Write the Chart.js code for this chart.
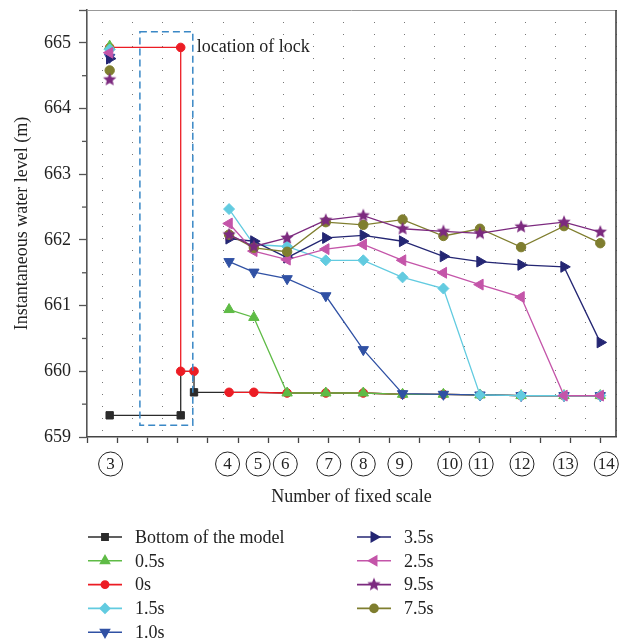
<!DOCTYPE html>
<html lang="en">
<head>
  <meta charset="UTF-8">
  <title>Instantaneous water level</title>
  <script src="https://cdn.jsdelivr.net/npm/chart.js"></script>
  <style>
    body { margin: 0; background: #fff; }
  </style>
</head>
<body>
  <canvas id="levelChart" width="629" height="642"></canvas>
  <script>
    // x position (axis units) of the fixed scales
    const scale3X = 0.75;
    const scaleX = [4.70, 5.52, 6.62, 7.90, 9.14, 10.44, 11.79, 13.00, 14.36, 15.78, 16.98]; // scales 4..14
    // circled labels under the axis
    const scaleNames = ['3', '4', '5', '6', '7', '8', '9', '10', '11', '12', '13', '14'];
    const scaleNameX = [0.78, 4.65, 5.66, 6.56, 8.0, 9.14, 10.35, 12.0, 13.04, 14.39, 15.83, 17.18];

    // around the lock
    const bottomLockX = [0.75, 3.10, 3.10, 3.54, 3.54];
    const bottomLockY = [659.33, 659.33, 660.0, 660.0, 659.68];
    const zeroLockX = [0.75, 3.10, 3.10, 3.54];
    const zeroLockY = [664.93, 664.93, 660.0, 660.0];
    const lockBox = { x1: 1.75, x2: 3.5, y1: 659.18, y2: 665.17 };

    // water level at scales 4..14
    const bottomLevel = [659.68, 659.68, 659.67, 659.67, 659.67, 659.65, 659.65, 659.64, 659.63, 659.63, 659.63];
    const level0s  = [659.68, 659.68, 659.67, 659.67, 659.67, 659.65, 659.65, 659.64, 659.63, 659.63, 659.63];
    const level05s = [660.94, 660.82, 659.67, 659.67, 659.67, 659.65, 659.65, 659.64, 659.63, 659.63, 659.63];
    const level10s = [661.67, 661.51, 661.41, 661.15, 660.33, 659.66, 659.65, 659.64, 659.63, 659.63, 659.63];
    const level15s = [662.47, 661.93, 661.90, 661.69, 661.69, 661.43, 661.26, 659.64, 659.63, 659.63, 659.63];
    const level25s = [662.25, 661.83, 661.70, 661.86, 661.93, 661.69, 661.50, 661.32, 661.13, 659.63, 659.63];
    const level35s = [662.02, 661.98, 661.73, 662.03, 662.07, 661.98, 661.75, 661.67, 661.62, 661.59, 660.44];
    const level75s = [662.08, 661.88, 661.82, 662.27, 662.23, 662.31, 662.06, 662.17, 661.89, 662.21, 661.95];
    const level95s = [662.08, 661.90, 662.03, 662.30, 662.37, 662.17, 662.13, 662.10, 662.20, 662.27, 662.12];
    // level at scale 3
    const first = { s05: 664.95, s0: 664.93, s15: 664.90, s10: 664.78, s35: 664.76, s25: 664.85, s95: 664.44, s75: 664.58 };

    const serif = '"Liberation Serif", "DejaVu Serif", serif';

    function makeStar(color, r) {
      const c = document.createElement('canvas');
      c.width = c.height = 2 * r + 2;
      const g = c.getContext('2d');
      g.fillStyle = color;
      g.beginPath();
      for (let i = 0; i < 10; i++) {
        const a = -Math.PI / 2 + i * Math.PI / 5;
        const rr = i % 2 ? r * 0.45 : r;
        g.lineTo(r + 1 + rr * Math.cos(a), r + 1 + rr * Math.sin(a));
      }
      g.closePath();
      g.fill();
      return c;
    }

    function pts(xs, ys) {
      return xs.map((x, i) => ({ x: x, y: ys[i] }));
    }
    // scale 3 point, a gap, then scales 4..14
    function withGap(y3, values) {
      return [{ x: scale3X, y: y3 }, { x: 2.5, y: null }].concat(pts(scaleX, values));
    }

    function line(label, color, data, style, radius, extra) {
      return Object.assign({
        label: label,
        data: data,
        borderColor: color,
        backgroundColor: color,
        pointBackgroundColor: color,
        pointBorderColor: color,
        borderWidth: 1.3,
        pointStyle: style,
        pointRadius: radius,
        pointBorderWidth: 1,
        tension: 0,
        spanGaps: false
      }, extra || {});
    }

    const datasets = [
      line('Bottom of the model', '#2b2b2b',
        pts(bottomLockX, bottomLockY).concat(pts(scaleX, bottomLevel)), 'rect',
        [5.2, 5.2, 0, 0, 5.2].concat(scaleX.map(() => 0)), { order: 9 }),
      line('0.5s', '#5fbb46', withGap(first.s05, level05s), 'triangle', 6, { order: 5 }),
      line('0s', '#ec1c24',
        pts(zeroLockX, zeroLockY).concat([{ x: 4, y: null }], pts(scaleX, level0s)), 'circle', 4.3, { order: 8 }),
      line('1.5s', '#62cbe0', withGap(first.s15, level15s), 'rectRot', 5.5, { order: 3 }),
      line('1.0s', '#3051a4', withGap(first.s10, level10s), 'triangle', 6, { order: 4, pointRotation: 180 }),
      line('3.5s', '#242673', withGap(first.s35, level35s), 'triangle', 6.3, { order: 2, pointRotation: 90 }),
      line('2.5s', '#c455a9', withGap(first.s25, level25s), 'triangle', 6.3, { order: 1, pointRotation: -90 }),
      line('9.5s', '#7c2a7f', withGap(first.s95, level95s), makeStar('#7c2a7f', 7), 7, { order: 0 }),
      line('7.5s', '#7f7e2f', withGap(first.s75, level75s), 'circle', 4.7, { order: 0.5 })
    ];

    // frame, minor y ticks, lock box, circled labels and the two-column legend
    const extras = {
      id: 'extras',
      afterDraw(chart) {
        const ctx = chart.ctx;
        const area = chart.chartArea;
        const xs = chart.scales.x;
        const ys = chart.scales.y;
        ctx.save();

        ctx.strokeStyle = '#999';
        ctx.lineWidth = 1;
        ctx.beginPath();
        ctx.moveTo(area.left, area.top + 0.5);
        ctx.lineTo(area.right, area.top + 0.5);
        ctx.stroke();
        ctx.strokeStyle = '#444';
        ctx.lineWidth = 1.6;
        ctx.beginPath();
        ctx.moveTo(area.right, area.top);
        ctx.lineTo(area.right, area.bottom);
        ctx.stroke();

        // minor ticks on y
        ctx.strokeStyle = '#555';
        ctx.lineWidth = 1.3;
        for (let v = ys.min + 0.5; v < ys.max; v += 1) {
          const py = ys.getPixelForValue(v);
          ctx.beginPath();
          ctx.moveTo(area.left - 5, py);
          ctx.lineTo(area.left, py);
          ctx.stroke();
        }

        // lock box
        ctx.strokeStyle = '#3a88c6';
        ctx.lineWidth = 1.5;
        ctx.setLineDash([7, 4]);
        const bx1 = xs.getPixelForValue(lockBox.x1), bx2 = xs.getPixelForValue(lockBox.x2);
        const by1 = ys.getPixelForValue(lockBox.y2), by2 = ys.getPixelForValue(lockBox.y1);
        ctx.strokeRect(bx1, by1, bx2 - bx1, by2 - by1);
        ctx.setLineDash([]);

        ctx.fillStyle = '#222';
        ctx.font = '18px ' + serif;
        ctx.textBaseline = 'middle';
        ctx.textAlign = 'left';
        ctx.fillText('location of lock', bx2 + 4, ys.getPixelForValue(664.94));

        // circled scale numbers
        ctx.strokeStyle = '#222';
        ctx.lineWidth = 1;
        ctx.textAlign = 'center';
        ctx.font = '17px ' + serif;
        scaleNames.forEach((t, i) => {
          const cx = xs.getPixelForValue(scaleNameX[i]);
          const cy = area.bottom + 27;
          ctx.beginPath();
          ctx.arc(cx, cy, 12, 0, Math.PI * 2);
          ctx.stroke();
          ctx.fillText(t, cx, cy + 1);
        });

        // legend, column by column
        ctx.font = '18px ' + serif;
        ctx.textAlign = 'left';
        chart.data.datasets.forEach((d, i) => {
          const col = i < 5 ? 0 : 1;
          const row = col ? i - 5 : i;
          const x0 = col ? 357 : 88;
          const y = 537 + row * 23.8;
          ctx.strokeStyle = d.borderColor;
          ctx.fillStyle = d.borderColor;
          ctx.lineWidth = 1.6;
          ctx.beginPath();
          ctx.moveTo(x0, y);
          ctx.lineTo(x0 + 34, y);
          ctx.stroke();
          const r = Array.isArray(d.pointRadius) ? d.pointRadius[0] : d.pointRadius;
          Chart.helpers.drawPoint(ctx, {
            pointStyle: d.pointStyle,
            radius: r * 0.85,
            rotation: d.pointRotation || 0,
            borderWidth: 1
          }, x0 + 17, y);
          ctx.fillStyle = '#222';
          ctx.fillText(d.label, x0 + 47, y + 1);
        });
        ctx.restore();
      }
    };

    const ctx = document.getElementById('levelChart').getContext('2d');
    const levelChart = new Chart(ctx, {
      type: 'line',
      data: { datasets: datasets },
      options: {
        responsive: false,
        animation: false,
        layout: { padding: { top: 10, right: 13, bottom: 132, left: 0 } },
        plugins: {
          legend: { display: false },
          tooltip: { enabled: false }
        },
        scales: {
          x: {
            type: 'linear',
            min: 0,
            max: 17.5,
            afterFit(s) { s.height = 73; s.paddingLeft = 0; s.paddingRight = 0; },
            ticks: {
              stepSize: 0.5,
              autoSkip: false,
              maxRotation: 0,
              callback: () => ''
            },
            grid: {
              color: (c) => (c.tick && c.tick.value % 1 !== 0) ? '#777' : 'rgba(0,0,0,0)',
              tickColor: (c) => (c.tick && c.tick.value % 1 === 0) ? '#444' : 'rgba(0,0,0,0)',
              tickLength: 6,
              tickWidth: 1.3,
              lineWidth: 1
            },
            border: { color: '#444', width: 1.6, dash: [1, 11] },
            title: {
              display: true,
              text: 'Number of fixed scale',
              color: '#222',
              font: { family: serif, size: 18 },
              padding: { top: 0, bottom: 2 }
            }
          },
          y: {
            min: 659,
            max: 665.5,
            afterFit(s) { s.width = 87; s.paddingTop = 0; s.paddingBottom = 0; },
            ticks: {
              stepSize: 1,
              padding: 8,
              color: '#222',
              font: { family: serif, size: 18 },
              callback: (v) => v % 1 === 0 ? v : ''
            },
            grid: {
              drawOnChartArea: false,
              tickLength: 8,
              tickColor: '#555',
              tickWidth: 1.3
            },
            border: { color: '#555', width: 1.6 },
            title: {
              display: true,
              text: 'Instantaneous water level (m)',
              color: '#222',
              font: { family: serif, size: 18 },
              padding: { top: 11, bottom: 0 }
            }
          }
        }
      },
      plugins: [extras]
    });
  </script>
</body>
</html>
